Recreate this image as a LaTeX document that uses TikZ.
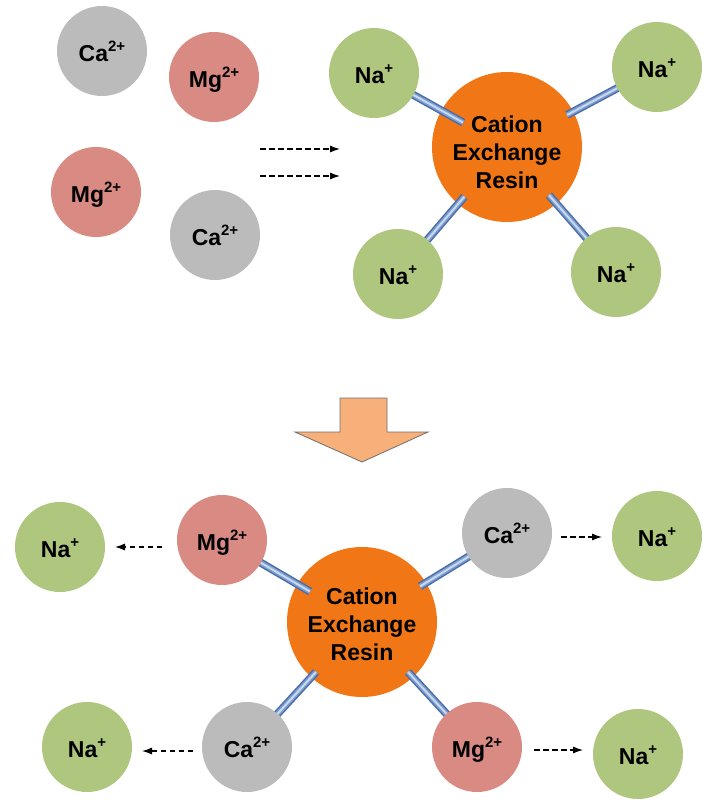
\documentclass[tikz,border=0pt]{standalone}
\usepackage{fontspec}
\setmainfont{Liberation Sans}
\usetikzlibrary{arrows.meta,calc}
\definecolor{cagray}{RGB}{187,187,187}
\definecolor{mgred}{RGB}{216,138,131}
\definecolor{nagreen}{RGB}{175,198,126}
\definecolor{resinor}{RGB}{240,118,22}
\definecolor{bigar}{RGB}{248,176,122}
\definecolor{bigarline}{RGB}{110,110,110}
\definecolor{stickdark}{RGB}{75,110,170}
\definecolor{stickmid}{RGB}{125,158,205}
\definecolor{sticklight}{RGB}{200,216,238}
\newcommand\ionsup[1]{\raisebox{10pt}{\fontsize{15}{15}\selectfont #1}}
\newcommand\ionstick[2]{%
  \draw[line width=8pt, stickdark] (#1) -- ($(#1)!102pt!(#2)$);
  \draw[line width=5pt, stickmid] (#1) -- ($(#1)!102pt!(#2)$);
  \draw[line width=2pt, sticklight] (#1) -- ($(#1)!102pt!(#2)$);}
\tikzset{
  ion/.style={circle, minimum size=90pt, inner sep=0pt, text height=21pt, text depth=0pt,
    font=\fontsize{23}{27}\selectfont\bfseries},
  caion/.style={ion, fill=cagray},
  mgion/.style={ion, fill=mgred},
  naion/.style={ion, fill=nagreen},
  resin/.style={circle, minimum size=150pt, inner sep=0pt, fill=resinor},
  resintext/.style={align=center, font=\fontsize{23}{28}\selectfont\bfseries},
  flow/.style={line width=1.1pt, dash pattern=on 5.5pt off 3.5pt, -{Latex[length=10pt,width=7pt]}},
  bigarrow/.style={fill=bigar, draw=bigarline, line width=0.8pt, line join=miter}
}
\begin{document}
\begin{tikzpicture}[x=1pt,y=-1pt]
\useasboundingbox (0,0) rectangle (717,808);

% ---------- top: before exchange ----------
\node[caion] (ca1) at (102,51) {Ca\ionsup{2+}};
\node[mgion] (mg1) at (214,77) {Mg\ionsup{2+}};
\node[mgion] (mg2) at (96,192) {Mg\ionsup{2+}};
\node[caion] (ca2) at (215,235) {Ca\ionsup{2+}};

\coordinate (f1s) at (260,149); \coordinate (f1e) at (340,149);
\coordinate (f2s) at (260,176); \coordinate (f2e) at (340,176);
\draw[flow] (f1s) -- (f1e);
\draw[flow] (f2s) -- (f2e);

\node[resin] (resinA) at (507,147) {};
\coordinate (pA1) at (374,73);
\coordinate (pA2) at (657,67);
\coordinate (pA3) at (398,274);
\coordinate (pA4) at (616,272);
\ionstick{pA1}{resinA.center}
\ionstick{pA2}{resinA.center}
\ionstick{pA3}{resinA.center}
\ionstick{pA4}{resinA.center}
\node[resintext] (rtA) at ($(resinA.center)+(0,5)$) {Cation\\Exchange\\Resin};
\node[naion] (naA1) at (pA1) {Na\ionsup{+}};
\node[naion] (naA2) at (pA2) {Na\ionsup{+}};
\node[naion] (naA3) at (pA3) {Na\ionsup{+}};
\node[naion] (naA4) at (pA4) {Na\ionsup{+}};

% ---------- big arrow ----------
\draw[bigarrow] (340,398) -- (387,398) -- (387,432) -- (428,432) -- (362,462)
  -- (295,432) -- (340,432) -- cycle;

% ---------- bottom: after exchange ----------
\node[resin] (resinB) at (362,622) {};
\coordinate (pB1) at (222,540);
\coordinate (pB2) at (507,533);
\coordinate (pB3) at (247,747);
\coordinate (pB4) at (477,747);
\ionstick{pB1}{resinB.center}
\ionstick{pB2}{resinB.center}
\ionstick{pB3}{resinB.center}
\ionstick{pB4}{resinB.center}
\node[resintext] (rtB) at ($(resinB.center)+(0,2)$) {Cation\\Exchange\\Resin};
\node[mgion] (mgB1) at (pB1) {Mg\ionsup{2+}};
\node[caion] (caB1) at (pB2) {Ca\ionsup{2+}};
\node[caion] (caB2) at (pB3) {Ca\ionsup{2+}};
\node[mgion] (mgB2) at (pB4) {Mg\ionsup{2+}};

\node[naion] (naB1) at (60,547) {Na\ionsup{+}};
\node[naion] (naB2) at (657,536) {Na\ionsup{+}};
\node[naion] (naB3) at (87,747) {Na\ionsup{+}};
\node[naion] (naB4) at (638,754) {Na\ionsup{+}};

\coordinate (g1s) at (162,547); \coordinate (g1e) at (115,547);
\coordinate (g2s) at (561,537); \coordinate (g2e) at (602,537);
\coordinate (g3s) at (193,751); \coordinate (g3e) at (142,751);
\coordinate (g4s) at (534,750); \coordinate (g4e) at (583,750);
\draw[flow] (g1s) -- (g1e);
\draw[flow] (g2s) -- (g2e);
\draw[flow] (g3s) -- (g3e);
\draw[flow] (g4s) -- (g4e);
\end{tikzpicture}
\end{document}
